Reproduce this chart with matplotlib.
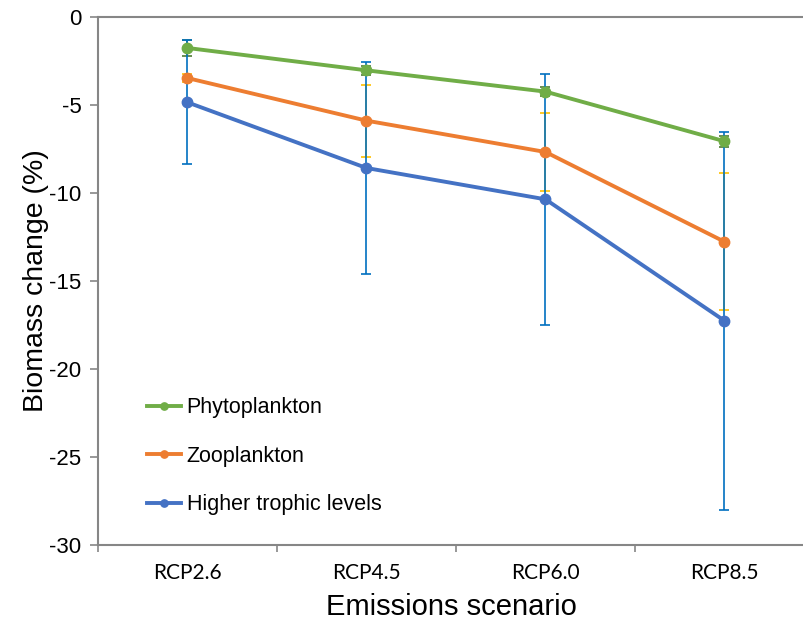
import matplotlib
matplotlib.use("Agg")
import matplotlib.pyplot as plt
import numpy as np

# values
scenarios = ["RCP2.6", "RCP4.5", "RCP6.0", "RCP8.5"]
phyto = [-1.76, -3.03, -4.24, -7.06]
phyto_err = [0.45, 0.25, 0.25, 0.3]
zoo = [-3.47, -5.89, -7.67, -12.77]
zoo_err = [0.25, 2.05, 2.2, 3.88]
higher = [-4.85, -8.58, -10.36, -17.26]
higher_err = [3.52, 6.04, 7.12, 10.75]

plt.rcParams['font.family'] = ['Liberation Sans', 'DejaVu Sans']
plt.rcParams['axes.unicode_minus'] = False

fig = plt.figure(figsize=(8.04, 6.36), dpi=100)
ax = fig.add_axes([98 / 804, 1 - 545 / 636, 1 - 98 / 804, (545 - 17) / 636])

x = np.arange(len(scenarios))

series = [
    ("Phytoplankton", phyto, phyto_err, "#70AD47", "#4E7A34"),
    ("Zooplankton", zoo, zoo_err, "#ED7D31", "#FFC000"),
    ("Higher trophic levels", higher, higher_err, "#4472C4", "#0070C0"),
]

for name, vals, err, col, ecol in series:
    ax.errorbar(x, vals, yerr=err, fmt="none", ecolor=ecol, elinewidth=1.2,
                capsize=3.5, capthick=1.2, zorder=2)
for name, vals, err, col, ecol in series:
    ax.plot(x, vals, color=col, lw=2.8, marker="o", ms=7.5, label=name, zorder=3)

ax.set_yticks(np.arange(-30, 1, 5))
ax.set_xticks(x)
ax.set_xticklabels(scenarios, fontfamily="Lato", fontsize=15)
ax.set_xticks(np.arange(-0.5, 3.6, 1), minor=True)
ax.set_xlim(-0.5, 3.5 - 10 / 179)
ax.set_ylim(-30, 0)
ax.tick_params(axis="x", which="major", length=0, pad=13)
ax.tick_params(axis="x", which="minor", length=5, color="#868686", width=1.2)
ax.tick_params(axis="y", length=6, color="#868686", width=1.2, labelsize=16, pad=6)

for s in ["left", "bottom", "top"]:
    ax.spines[s].set_color("#868686")
    ax.spines[s].set_linewidth(1.5)
ax.spines["right"].set_visible(False)

ax.set_ylabel("Biomass change (%)", fontsize=20.5, labelpad=0)
ax.set_xlabel("Emissions scenario", fontsize=21, labelpad=7)

leg = ax.legend(loc="upper left", bbox_to_anchor=(0.069, 0.28), frameon=False,
                fontsize=15.5, handlelength=1.6, handletextpad=0.25, labelspacing=1.28,
                borderpad=0, borderaxespad=0, markerscale=0.7)

fig.savefig("out.png", dpi=100)
